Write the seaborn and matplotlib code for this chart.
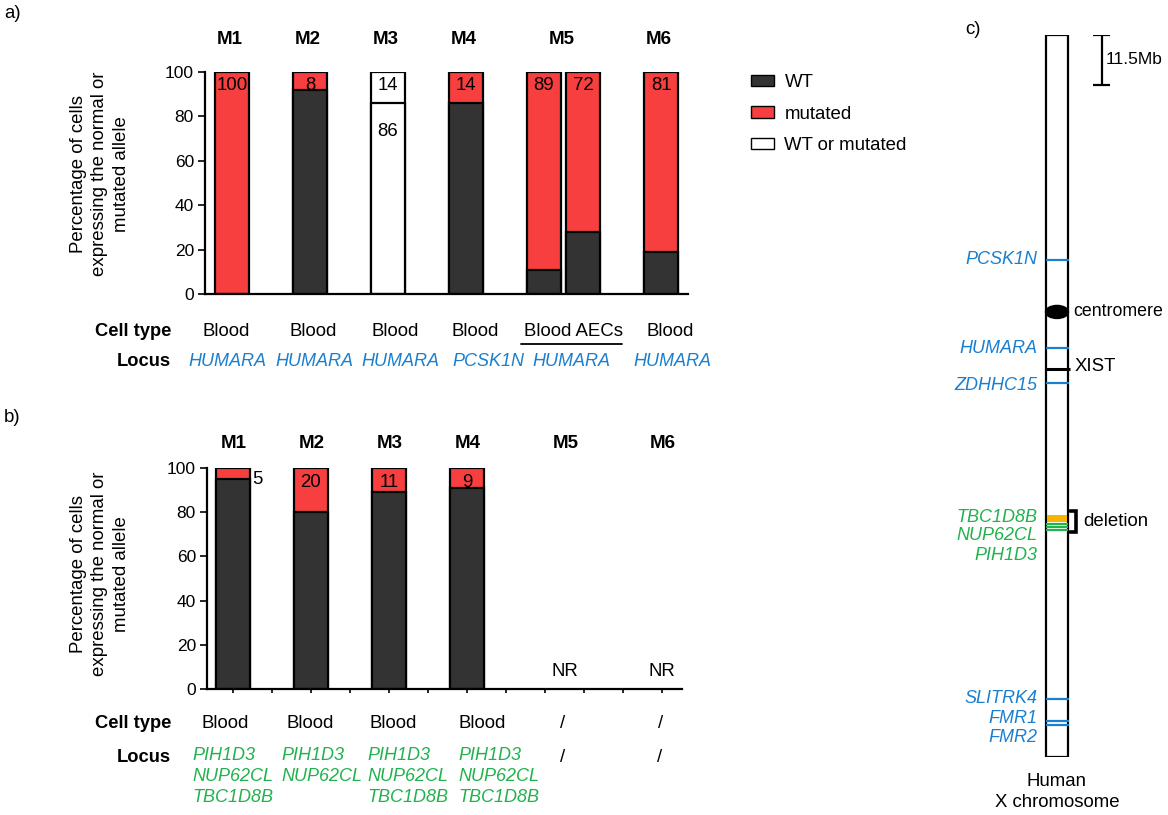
import numpy as np
import pandas as pd
import matplotlib
matplotlib.use("Agg")
import matplotlib.pyplot as plt
from matplotlib.patches import Patch, Rectangle, Ellipse
import seaborn as sns

# ---- data -------------------------------------------------------------
mice = ["M1", "M2", "M3", "M4", "M5", "M6"]

# panel a: bar positions (M5 has two bars: Blood and AECs)
pos_a = [0, 1, 2, 3, 4, 4.5, 5.5]
wt_a = [0, 92, 0, 86, 11, 28, 19]
mut_a = [100, 8, 0, 14, 89, 72, 81]
amb_a = [0, 0, 100, 0, 0, 0, 0]          # "WT or mutated"
amb_split_a = [0, 0, 86, 0, 0, 0, 0]     # internal line of the M3 bar
title_pos_a = [0, 1, 2, 3, 4.25, 5.5]
cell_a = ["Blood", "Blood", "Blood", "Blood", "Blood AECs", "Blood"]
locus_a = ["HUMARA", "HUMARA", "HUMARA", "PCSK1N", "HUMARA", "HUMARA"]

# panel b
pos_b = [0, 1, 2, 3]
wt_b = [95, 80, 89, 91]
mut_b = [5, 20, 11, 9]
nr_pos_b = [4.25, 5.5]
title_pos_b = [0, 1, 2, 3, 4.25, 5.5]
cell_b = ["Blood", "Blood", "Blood", "Blood", "/", "/"]
locus_b = ["PIH1D3\nNUP62CL\nTBC1D8B", "PIH1D3\nNUP62CL", "PIH1D3\nNUP62CL\nTBC1D8B",
           "PIH1D3\nNUP62CL\nTBC1D8B", "/", "/"]

# panel c: human X chromosome (Mb)
chr_len = 166.0
scale_mb = 11.5
centromere_mb = 63.7
xist_mb = 76.8
genes_blue = ["PCSK1N", "HUMARA", "ZDHHC15", "SLITRK4", "FMR1", "FMR2"]
genes_blue_mb = [51.7, 72.0, 80.0, 152.7, 157.8, 158.7]
genes_green = ["TBC1D8B", "NUP62CL", "PIH1D3"]
genes_green_mb = [112.4, 113.2, 113.9]
deletion_mb = (110.4, 111.9)
bracket_mb = (109.5, 114.3)

# ---- style ------------------------------------------------------------
sns.set_style("ticks")
plt.rcParams["font.family"] = ["Liberation Sans", "DejaVu Sans"]
for k in ["text.color", "axes.labelcolor", "xtick.color", "ytick.color", "axes.edgecolor"]:
    plt.rcParams[k] = "black"

RED = "#f73f3f"
DARK = "#333333"
BLUE = "#1b7fcf"
GREEN = "#21b24e"
ORANGE = "#f7b500"
FS = 13.4      # regular text
FSI = 13       # italic gene names
FSB = 13.2     # bold row labels
W, H = 1168, 815
UNIT = 78      # px per bar slot
BAR_W = 0.44


def rect(x0, y0, x1, y1):
    return [x0 / W, 1 - y1 / H, (x1 - x0) / W, (y1 - y0) / H]


fig = plt.figure(figsize=(W / 100, H / 100), dpi=100)

# overlay for free text, in pixel coordinates
ov = fig.add_axes([0, 0, 1, 1], zorder=0)
ov.set_xlim(0, W)
ov.set_ylim(H, 0)
ov.set_axis_off()


def stacked(ax, df):
    """Draw overlayed bars: full total first, then the lower segment."""
    def w(sub):
        d = np.diff(np.unique(sub["pos"]))
        return BAR_W / (d.min() if len(d) else 1)
    top = df[df["total"] > 0]
    sns.barplot(data=top, x="pos", y="total", hue="top_kind",
                palette={"mutated": RED, "WT or mutated": "white"},
                native_scale=True, dodge=False, width=w(top), saturation=1,
                edgecolor="black", linewidth=1.6, legend=False, ax=ax)
    low = df[df["low"] > 0]
    sns.barplot(data=low, x="pos", y="low", hue="low_kind",
                palette={"WT": DARK, "WT or mutated": "white"},
                native_scale=True, dodge=False, width=w(low), saturation=1,
                edgecolor="black", linewidth=1.6, legend=False, ax=ax)


def style_axis(ax, xticks):
    ax.set_ylim(0, 100)
    ax.set_yticks(range(0, 101, 20))
    ax.tick_params(axis="y", labelsize=12.5, length=5, width=1.2, pad=3)
    ax.set_xticks(xticks)
    ax.set_xticklabels([""] * len(xticks))
    ax.tick_params(axis="x", length=3, width=1.2)
    for s in ["top", "right"]:
        ax.spines[s].set_visible(False)
    for s in ["left", "bottom"]:
        ax.spines[s].set_linewidth(1.6)
    ax.set_xlabel("")
    ax.set_ylabel("")
    ax.patch.set_alpha(0)


# ---- panel a ----------------------------------------------------------
X0A = 232
axa = fig.add_axes(rect(205, 72, 688, 294))
df_a = pd.DataFrame({
    "pos": pos_a,
    "total": np.add(np.add(wt_a, mut_a), amb_a),
    "top_kind": ["WT or mutated" if a else "mutated" for a in amb_a],
    "low": np.where(np.array(amb_a) > 0, amb_split_a, wt_a),
    "low_kind": ["WT or mutated" if a else "WT" for a in amb_a],
})
stacked(axa, df_a)
style_axis(axa, [])
axa.set_xlim((205 - X0A) / UNIT, (688 - X0A) / UNIT)
for p, m, a, s in zip(pos_a, mut_a, amb_a, amb_split_a):
    if m:
        axa.text(p, 94, str(m), ha="center", va="center", fontsize=FS)
    if a:
        axa.text(p, 94, str(a - s), ha="center", va="center", fontsize=FS)
        axa.text(p, 73, str(s), ha="center", va="center", fontsize=FS)
for p, m in zip(title_pos_a, mice):
    ov.text(X0A + p * UNIT - 2, 40, m, ha="center", va="center", fontsize=13.5, fontweight="bold")

# ---- panel b ----------------------------------------------------------
X0B = 233
axb = fig.add_axes(rect(207, 468, 682, 689))
df_b = pd.DataFrame({
    "pos": pos_b,
    "total": np.add(wt_b, mut_b),
    "top_kind": ["mutated"] * len(pos_b),
    "low": wt_b,
    "low_kind": ["WT"] * len(pos_b),
})
stacked(axb, df_b)
style_axis(axb, np.arange(0, 5.51, 0.5))
axb.set_xlim((207 - X0B) / UNIT, (682 - X0B) / UNIT)
for p, m in zip(pos_b, mut_b):
    if m < 8:
        axb.text(p + 0.25, 95, str(m), ha="left", va="center", fontsize=FS)
    else:
        axb.text(p, 93.5, str(m), ha="center", va="center", fontsize=FS)
for p in nr_pos_b:
    axb.text(p, 8, "NR", ha="center", va="center", fontsize=FS)
for p, m in zip(title_pos_b, mice):
    ov.text(X0B + p * UNIT + 1, 443, m, ha="center", va="center", fontsize=13.5, fontweight="bold")

# ---- axis titles and row labels -------------------------------------
ylab = "Percentage of cells\nexpressing the normal or\nmutated allele"
for yc in (174, 574):
    ov.text(100, yc, ylab, rotation=90, ha="center", va="center",
            multialignment="center", fontsize=FS, linespacing=1.35)

ov.text(4, 14, "a)", fontsize=FS, va="center")
ov.text(4, 418, "b)", fontsize=FS, va="center")
ov.text(965, 30, "c)", fontsize=FS, va="center")

ov.text(171, 331, "Cell type", ha="right", va="center", fontsize=FSB, fontweight="bold")
ov.text(171, 362, "Locus", ha="right", va="center", fontsize=FSB, fontweight="bold")
ov.text(171, 723, "Cell type", ha="right", va="center", fontsize=FSB, fontweight="bold")
ov.text(171, 758, "Locus", ha="right", va="center", fontsize=FSB, fontweight="bold")

cell_off_a = [-6, 3, 7, 9, 10, 9]
locus_off_a = [-5, 4, 12, 22, 8, 11]
for p, c, l, dc, dl in zip(title_pos_a, cell_a, locus_a, cell_off_a, locus_off_a):
    x = X0A + p * UNIT
    ov.text(x + dc, 331, c, ha="center", va="center", fontsize=FS)
    ov.text(x + dl, 362, l, ha="center", va="center", fontsize=FSI, color=BLUE, style="italic")
ov.plot([521, 622], [344, 344], color="black", lw=1.3)

cell_off_b = [-8, -1, 4, 15, -2, -1]
locus_left_b = [192, 281, 367, 458]
for i, (p, c, l) in enumerate(zip(title_pos_b, cell_b, locus_b)):
    x = X0B + p * UNIT
    ov.text(x + cell_off_b[i], 723, c, ha="center", va="center", fontsize=FS)
    if l == "/":
        ov.text(x - 2, 758, l, ha="center", va="center", fontsize=FS)
    else:
        ov.text(locus_left_b[i], 747, l, ha="left", va="top", fontsize=FSI,
                color=GREEN, style="italic", linespacing=1.3)

# legend
handles = [Patch(facecolor=DARK, edgecolor="black", label="WT"),
           Patch(facecolor=RED, edgecolor="black", label="mutated"),
           Patch(facecolor="white", edgecolor="black", label="WT or mutated")]
fig.legend(handles=handles, loc="upper left", bbox_to_anchor=(751 / W, 1 - 74 / H),
           frameon=False, fontsize=FS, handlelength=1.25, handleheight=0.6,
           handletextpad=0.55, labelspacing=0.78, borderpad=0, borderaxespad=0)

# ---- panel c: chromosome ---------------------------------------------
axc = fig.add_axes(rect(930, 35, 1168, 35 + chr_len * 50 / scale_mb))
axc.set_xlim(930, 1168)
axc.set_ylim(chr_len, 0)
axc.set_axis_off()
CX0, CX1 = 1046, 1068
axc.add_patch(Rectangle((CX0, 0), CX1 - CX0, chr_len, facecolor="white",
                        edgecolor="black", lw=1.6, zorder=1))
axc.add_patch(Ellipse(((CX0 + CX1) / 2, centromere_mb), CX1 - CX0 + 1, 3.0,
                      facecolor="black", edgecolor="black", zorder=3))
axc.text(1073, centromere_mb, "centromere", ha="left", va="center", fontsize=12.8)
axc.hlines(xist_mb, CX0, CX1 + 2, color="black", lw=2.2, zorder=3)
axc.text(1075, xist_mb - 0.5, "XIST", ha="left", va="center", fontsize=FS)

axc.hlines(genes_blue_mb, CX0, CX1 + 1, color=BLUE, lw=1.6, zorder=3)
blue_lab_mb = [51.7, 72.0, 80.5, 152.7, 157.1, 161.5]
for g, y in zip(genes_blue, blue_lab_mb):
    axc.text(1037, y, g, ha="right", va="center", fontsize=FSI, color=BLUE, style="italic")

axc.fill_between([CX0 + 1, CX1 - 1], deletion_mb[0], deletion_mb[1], color=ORANGE, zorder=2, lw=0)
axc.hlines(genes_green_mb, CX0, CX1, color=GREEN, lw=1.6, zorder=3)
green_lab_mb = [110.9, 115.0, 119.6]
for g, y in zip(genes_green, green_lab_mb):
    axc.text(1037, y, g, ha="right", va="center", fontsize=FSI, color=GREEN, style="italic")
axc.plot([1070, 1076, 1076, 1070], [bracket_mb[0], bracket_mb[0], bracket_mb[1], bracket_mb[1]],
         color="black", lw=2.6, solid_joinstyle="miter")
axc.text(1083, np.mean(bracket_mb), "deletion", ha="left", va="center", fontsize=FS)

# scale bar
axc.vlines(1102, 0, scale_mb, color="black", lw=1.6)
axc.hlines([0, scale_mb], 1093, 1110, color="black", lw=1.6)
axc.text(1106, scale_mb / 2, "11.5Mb", ha="left", va="center", fontsize=12.5)

ov.text(1057, 792, "Human\nX chromosome", ha="center", va="center", fontsize=FS, linespacing=1.25)

fig.savefig("out.png", dpi=100)
